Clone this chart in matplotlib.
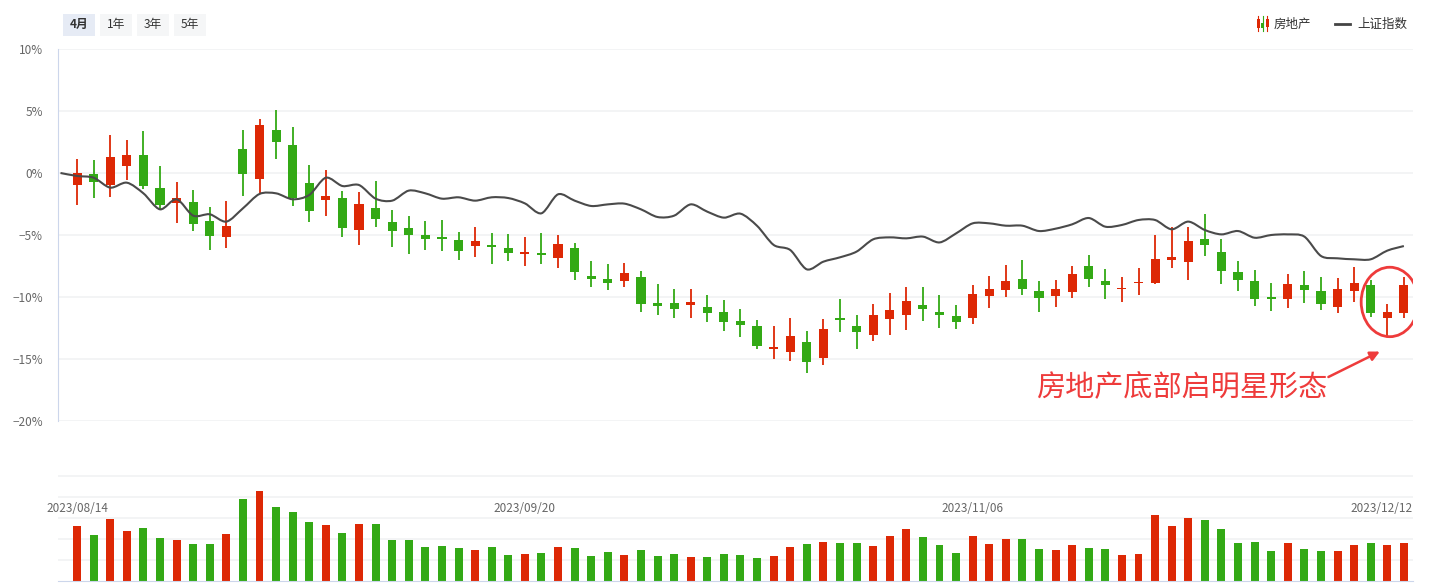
import matplotlib
matplotlib.use("Agg")
import matplotlib.pyplot as plt
from matplotlib.patches import Rectangle, Ellipse, PathPatch
from matplotlib.path import Path
import numpy as np

plt.rcParams['font.family'] = ['Noto Sans CJK SC', 'DejaVu Sans']

# 房地产 daily candles, % change vs. base day
opens = [-0.94, -0.08, -0.94, 0.59, 1.45, -1.21, -2.39, -2.34, -3.87, -5.13,
         1.94, -0.46, 3.47, 2.26, -0.81, -2.15, -2.02, -4.57, -2.82, -3.95,
         -4.44, -5.00, -5.13, -5.40, -5.86, -5.89, -6.05, -6.51, -6.45, -6.83,
         -6.05, -8.31, -8.55, -8.68, -8.39, -10.48, -10.48, -10.62, -10.81, -11.21,
         -11.94, -12.34, -14.17, -14.41, -13.63, -14.89, -11.77, -12.34, -13.04, -11.75,
         -11.42, -10.65, -11.21, -11.53, -11.67, -9.89, -9.41, -8.55, -9.52, -9.89,
         -9.57, -7.50, -8.71, -9.38, -8.90, -8.84, -6.99, -7.15, -5.32, -6.37,
         -7.98, -8.71, -10.08, -10.13, -9.03, -9.52, -10.78, -9.49, -9.03, -11.67, -11.26]
closes = [0.00, -0.70, 1.29, 1.45, -1.02, -2.55, -2.02, -4.09, -5.05, -4.27,
          -0.05, 3.87, 2.53, -1.99, -3.04, -1.85, -4.41, -2.50, -3.68, -4.65,
          -4.97, -5.30, -5.30, -6.26, -5.48, -5.94, -6.42, -6.45, -6.59, -5.73,
          -7.96, -8.52, -8.84, -8.06, -10.54, -10.70, -10.94, -10.40, -11.26, -11.99,
          -12.23, -13.92, -14.03, -13.15, -15.21, -12.58, -11.83, -12.80, -11.45, -11.05,
          -10.32, -10.94, -11.42, -11.99, -9.76, -9.35, -8.71, -9.33, -10.06, -9.35,
          -8.15, -8.52, -9.01, -9.27, -8.79, -6.94, -6.77, -5.48, -5.78, -7.88,
          -8.60, -10.13, -10.13, -8.95, -9.41, -10.54, -9.35, -8.87, -11.26, -11.21, -9.03]
highs = [1.13, 1.05, 3.06, 2.66, 3.39, 0.56, -0.73, -1.37, -2.74, -2.26,
         3.47, 4.35, 5.08, 3.71, 0.65, 0.24, -1.45, -1.53, -0.65, -2.98,
         -3.47, -3.87, -3.79, -4.76, -4.35, -4.84, -4.92, -5.16, -4.84, -5.00,
         -5.65, -7.10, -7.34, -7.26, -7.90, -8.95, -9.35, -9.35, -9.84, -10.24,
         -10.97, -11.85, -12.34, -11.69, -12.74, -11.77, -10.16, -11.45, -10.56, -9.68,
         -9.19, -9.19, -9.84, -10.65, -9.03, -8.31, -7.42, -7.02, -8.71, -8.63,
         -7.50, -6.61, -7.74, -8.39, -7.66, -5.00, -4.35, -4.35, -3.31, -5.32,
         -7.10, -7.82, -8.87, -8.15, -7.90, -8.39, -8.47, -7.58, -8.63, -10.56, -8.39]
lows = [-2.55, -1.99, -1.91, -0.56, -1.26, -2.96, -4.01, -4.65, -6.18, -6.02,
        -1.83, -1.67, 1.13, -2.63, -3.92, -3.44, -5.13, -5.78, -4.33, -5.94,
        -6.51, -6.18, -6.26, -6.99, -6.75, -7.31, -7.07, -7.47, -7.34, -7.66,
        -8.63, -9.17, -9.41, -9.17, -11.18, -11.42, -11.67, -11.67, -11.99, -12.72,
        -13.20, -14.17, -14.97, -15.13, -16.10, -15.46, -12.80, -14.17, -13.52, -13.04,
        -12.64, -11.91, -12.47, -12.56, -12.15, -10.89, -10.00, -9.84, -11.18, -10.78,
        -10.05, -9.17, -10.13, -10.38, -9.81, -8.95, -7.66, -8.60, -6.67, -8.92,
        -9.49, -10.70, -11.10, -10.86, -10.46, -11.02, -11.26, -10.38, -11.59, -13.12, -11.67]
volume = [55, 46, 62, 50, 53, 43, 41, 37, 37, 47,
          82, 90, 74, 69, 59, 56, 48, 57, 57, 41,
          41, 34, 35, 33, 31, 34, 26, 27, 28, 34,
          33, 25, 29, 26, 31, 25, 27, 24, 24, 27,
          26, 23, 25, 34, 37, 39, 38, 38, 35, 45,
          52, 44, 36, 28, 45, 37, 42, 42, 32, 31,
          36, 33, 32, 26, 27, 66, 55, 63, 61, 52,
          38, 39, 30, 38, 32, 30, 30, 36, 38, 36, 38]
# 上证指数, first value is the base day
sh_index = [0.0, -0.24, -0.38, -1.18, -0.78, -1.64, -2.93, -2.12, -3.44, -3.33, -3.92,
            -2.85, -1.69, -1.64, -2.12, -1.77, -0.38, -1.05, -0.97, -2.07, -2.23,
            -1.42, -1.64, -2.07, -1.96, -2.23, -1.96, -2.02, -2.45, -3.25, -1.72,
            -2.23, -2.66, -2.53, -2.47, -2.93, -3.55, -3.44, -2.53, -3.12, -3.60,
            -3.28, -4.26, -5.80, -6.21, -7.77, -7.15, -6.80, -6.34, -5.35, -5.19,
            -5.27, -5.13, -5.60, -4.87, -4.06, -4.06, -4.25, -4.25, -4.68, -4.49,
            -4.14, -3.63, -4.33, -4.19, -3.79, -3.79, -4.54, -3.92, -4.60, -4.95,
            -4.68, -5.22, -5.00, -4.95, -5.13, -6.69, -6.88, -6.96, -6.96, -6.26, -5.89]
date_idx = [0, 27, 54, 80]
date_labels = ['2023/08/14', '2023/09/20', '2023/11/06', '2023/12/12']
yticks = [10, 5, 0, -5, -10, -15, -20]

RED = '#dd2805'
GREEN = '#33a915'
W, H = 1430, 584


def smooth_path(xs, ys, s=0.3):
    # bezier curve through the points, like a "smooth" line
    pts = np.column_stack([xs, ys])
    n = len(pts)
    verts = [pts[0]]
    codes = [Path.MOVETO]
    for i in range(n - 1):
        p_prev = pts[max(i - 1, 0)]
        p_next = pts[min(i + 2, n - 1)]
        c1 = pts[i] + (pts[i + 1] - p_prev) * s / 2
        c2 = pts[i + 1] - (p_next - pts[i]) * s / 2
        verts += [c1, c2, pts[i + 1]]
        codes += [Path.CURVE4] * 3
    return Path(verts, codes)


o = np.array(opens); c = np.array(closes)
hi = np.array(highs); lo = np.array(lows)
x = np.arange(len(o))
up = c >= o
cols = np.where(up, RED, GREEN)

fig = plt.figure(figsize=(W / 100, H / 100), dpi=100)

# main panel
ax = fig.add_axes([58 / W, 1 - 421 / H, 1355 / W, 372 / H])
ax.set_xlim(-1.15, 80.55)
ax.set_ylim(-20, 10)
ax.set_yticks(yticks)
ax.set_yticklabels([f"{v}%".replace('-', '−') for v in yticks], color='#666666', fontsize=8.5)
ax.tick_params(axis='y', length=0, pad=11)
ax.set_xticks([])
ax.grid(axis='y', color='#f2f3f5', lw=1.3)
ax.set_axisbelow(True)
for s in ['top', 'right', 'bottom']:
    ax.spines[s].set_visible(False)
ax.spines['left'].set_color('#ccd6eb')

ax.vlines(x, lo, hi, colors=cols, lw=1.3, zorder=2)
body = np.maximum(np.abs(c - o), 0.12)
ax.bar(x, body, bottom=np.minimum(o, c), width=0.55, color=cols, zorder=2)
ax.add_patch(PathPatch(smooth_path(np.arange(-1, len(o)), sh_index), fill=False,
                       ec='#4a4a4a', lw=1.5, zorder=3))

# annotation
ax.add_patch(Ellipse((79.15, -10.4), 3.45, 5.6, fill=False, ec='#ee3b3b', lw=2, zorder=4))
ax.annotate('', xy=(78.7, -14.3), xytext=(75.3, -16.55),
            arrowprops=dict(arrowstyle='-|>', color='#ee3b3b', lw=1.8, mutation_scale=14))
ax.text(66.6, -17.25, '房地产底部启明星形态', color='#ee3b3b', fontsize=21,
        ha='center', va='center')

# volume panel
axv = fig.add_axes([58 / W, 1 - 581 / H, 1355 / W, 106 / H])
axv.set_xlim(-1.15, 80.55)
axv.set_ylim(0, 106)
axv.set_yticks([21, 42, 63, 84, 105])
axv.set_yticklabels([])
axv.tick_params(length=0)
axv.set_xticks([])
axv.grid(axis='y', color='#f2f3f5', lw=1.3)
axv.set_axisbelow(True)
for s in ['top', 'right', 'left']:
    axv.spines[s].set_visible(False)
axv.spines['bottom'].set_color('#ccd6eb')
axv.bar(x, volume, width=0.48, color=cols)
for i, lab in zip(date_idx, date_labels):
    ha = 'right' if i == date_idx[-1] else 'center'
    xi = 80.55 if i == date_idx[-1] else i
    axv.text(xi, 72, lab, color='#666666', fontsize=8.5, ha=ha, va='center')

# period buttons
for k, (lab, x0) in enumerate(zip(['4月', '1年', '3年', '5年'], [63, 100, 137, 174])):
    fc = '#e6ebf5' if k == 0 else '#f5f6f7'
    fig.add_artist(Rectangle((x0 / W, 1 - 36 / H), 32 / W, 22 / H,
                             transform=fig.transFigure, fc=fc, ec='none'))
    fig.text((x0 + 16) / W, 1 - 24.5 / H, lab, ha='center', va='center', fontsize=8.5,
             color='#333333', fontweight='bold' if k == 0 else 'normal')

# legend
for dx, col, b0, b1 in [(1258, RED, 19, 28), (1262.5, GREEN, 23, 28), (1267, RED, 19, 27)]:
    fig.add_artist(plt.Line2D([dx / W, dx / W], [1 - 31 / H, 1 - 16 / H],
                              transform=fig.transFigure, color=col, lw=0.8))
    fig.add_artist(Rectangle(((dx - 1.5) / W, 1 - b1 / H), 3 / W, (b1 - b0) / H,
                             transform=fig.transFigure, fc=col, ec='none'))
fig.text(1274 / W, 1 - 24 / H, '房地产', fontsize=9, color='#333333', va='center')
fig.add_artist(plt.Line2D([1335 / W, 1350 / W], [1 - 23.5 / H, 1 - 23.5 / H],
                          transform=fig.transFigure, color='#444444', lw=2))
fig.text(1357 / W, 1 - 24 / H, '上证指数', fontsize=9, color='#333333', va='center')

fig.savefig('out.png', dpi=100)
